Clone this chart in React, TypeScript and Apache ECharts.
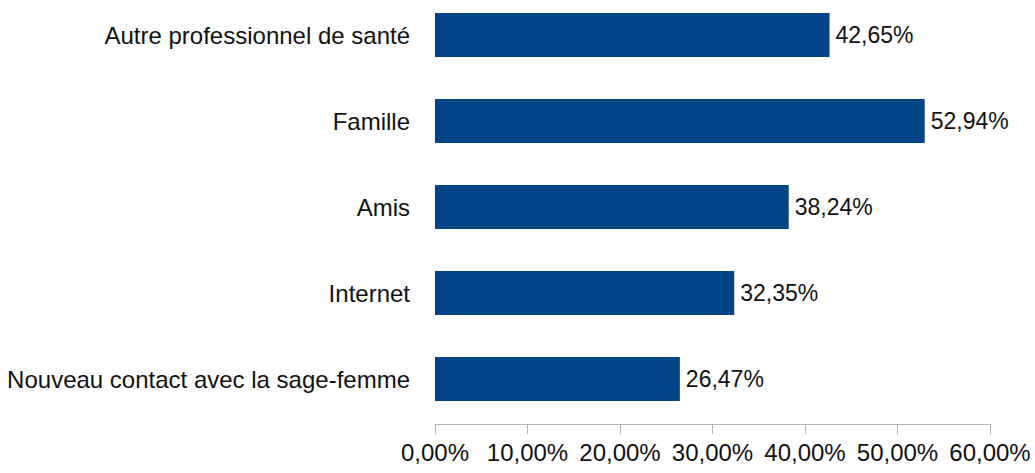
import React, { useEffect, useRef } from "react";
import * as echarts from "echarts";

const categories = [
  "Autre professionnel de santé",
  "Famille",
  "Amis",
  "Internet",
  "Nouveau contact avec la sage-femme",
];
const values = [42.65, 52.94, 38.24, 32.35, 26.47];
const xTicks = [0, 10, 20, 30, 40, 50, 60];

const fmt = (v: number) => v.toFixed(2).replace(".", ",") + "%";

export default function App() {
  const ref = useRef<HTMLDivElement>(null);
  useEffect(() => {
    if (!ref.current) return;
    const chart = echarts.init(ref.current, undefined, { renderer: "svg" });
    chart.setOption({
      animation: false,
      textStyle: { fontFamily: "Liberation Sans" },
      grid: { left: 435, right: 45, top: 0, bottom: 51, containLabel: false },
      xAxis: {
        type: "value",
        min: xTicks[0],
        max: xTicks[xTicks.length - 1],
        interval: 10,
        offset: 2,
        axisLine: { show: true, lineStyle: { color: "#b3b3b3", width: 1 } },
        axisTick: { show: true, length: 10, lineStyle: { color: "#b3b3b3" } },
        splitLine: { show: false },
        axisLabel: {
          color: "#111",
          fontSize: 24,
          margin: 16,
          formatter: (v: number) => fmt(v),
        },
      },
      yAxis: {
        type: "category",
        data: categories,
        inverse: true,
        axisLine: { show: false },
        axisTick: { show: false },
        axisLabel: { color: "#111", fontSize: 24, margin: 25 },
      },
      series: [
        {
          type: "bar",
          data: values,
          barWidth: "51%",
          itemStyle: { color: "#004586" },
          label: {
            show: true,
            position: "right",
            distance: 6,
            color: "#111",
            fontSize: 23,
            formatter: (p: any) => fmt(p.value),
          },
        },
      ],
    });
    return () => chart.dispose();
  }, []);
  return (
    <div
      ref={ref}
      style={{ width: 1035, height: 481, position: "absolute", left: 0, top: -8 }}
    />
  );
}
